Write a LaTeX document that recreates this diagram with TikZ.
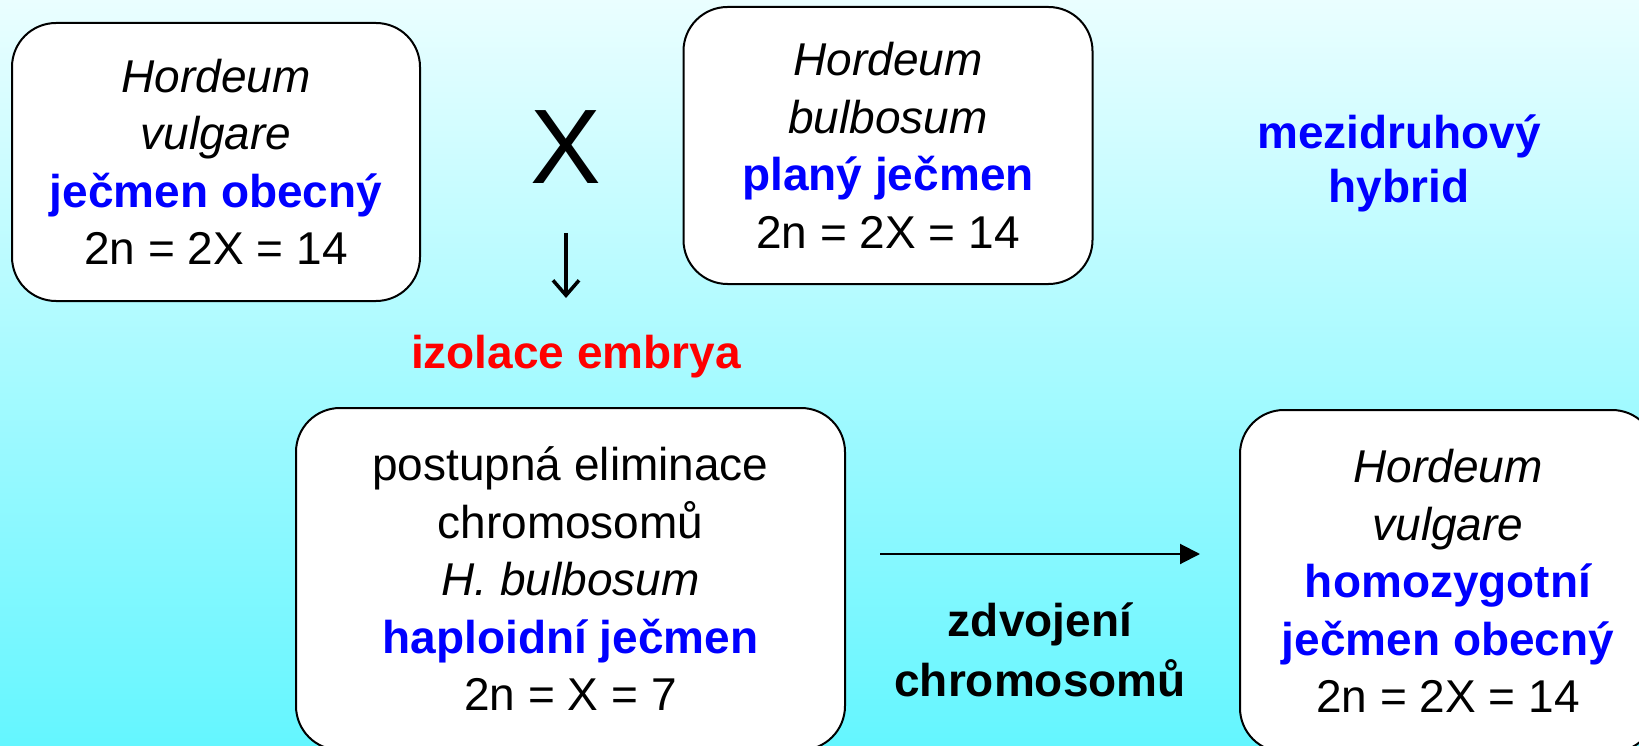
\documentclass[tikz,border=0pt]{standalone}
\usepackage{fontspec}
\setmainfont{Liberation Sans}
\usetikzlibrary{arrows.meta}
\definecolor{bgtop}{RGB}{234,254,255}
\definecolor{bgbot}{RGB}{100,246,255}
\definecolor{txtblue}{RGB}{0,0,255}
\definecolor{txtred}{RGB}{255,0,0}
\begin{document}
\begin{tikzpicture}[x=1pt,y=-1pt,
  card/.style={draw=black, line width=2pt, fill=white, rounded corners=44pt,
    align=center, font=\fontsize{46}{57.5}\selectfont, inner sep=0pt},
  lbl/.style={align=center, font=\fontsize{46}{55}\selectfont\bfseries, inner sep=0pt},
  conn/.style={line width=2pt}
  ]
\useasboundingbox (0,0) rectangle (1639,746);
\clip (0,0) rectangle (1639,746);
\shade[top color=bgtop,bottom color=bgbot] (0,0) rectangle (1639,746);

\node[card, minimum width=408pt, minimum height=278pt] (hv) at (216,162)
  {\textit{Hordeum}\\\textit{vulgare}\\\textcolor{txtblue}{\bfseries ječmen obecný}\\2n = 2X = 14};
\node[card, minimum width=409pt, minimum height=277pt] (hb) at (888,145.5)
  {\textit{Hordeum}\\\textit{bulbosum}\\\textcolor{txtblue}{\bfseries planý ječmen}\\2n = 2X = 14};
\node[card, minimum width=549pt, minimum height=342pt] (hap) at (570.5,579)
  {postupná eliminace\\chromosomů\\\textit{H. bulbosum}\\\textcolor{txtblue}{\bfseries haploidní ječmen}\\2n = X = 7};
\node[card, minimum width=416pt, minimum height=342pt] (hom) at (1448,581)
  {\textit{Hordeum}\\\textit{vulgare}\\\textcolor{txtblue}{\bfseries homozygotní}\\\textcolor{txtblue}{\bfseries ječmen obecný}\\2n = 2X = 14};

\node[font=\fontsize{106}{110}\selectfont, inner sep=0pt, anchor=base] (cross) at (566,184) {X};
\coordinate (dtop) at (566,233);
\coordinate (dbot) at (566,298);
\draw[line width=3.5pt, -{Straight Barb[length=15pt,width=26pt]}] (dtop) -- (dbot);

\node[lbl, text=txtred, anchor=base] (iz) at (576,368) {izolace embrya};
\node[lbl, text=txtblue, font=\fontsize{46}{54}\selectfont\bfseries] (mez) at (1399,163) {mezidruhový\\hybrid};
\node[lbl, text=black, font=\fontsize{46}{60}\selectfont\bfseries] (zdv) at (1040,650) {zdvojení\\chromosomů};

\coordinate (hstart) at (880,554);
\coordinate (hend) at (1200,554);
\draw[conn, -{Triangle[length=20pt,width=20pt]}] (hstart) -- (hend);
\end{tikzpicture}
\end{document}
